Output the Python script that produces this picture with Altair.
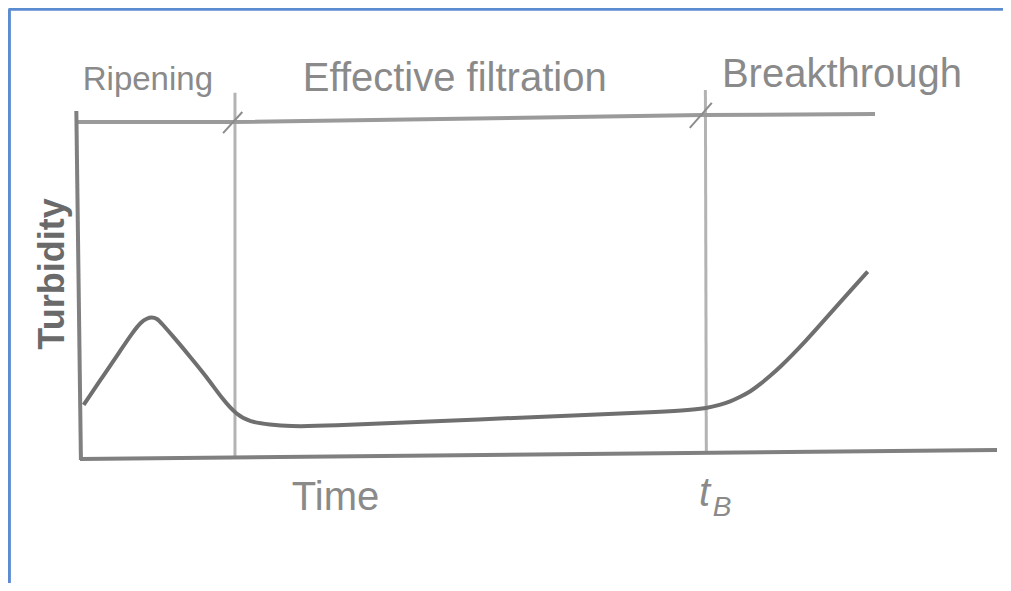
import altair as alt
import pandas as pd

# ---- data (time 0..100, turbidity 0..100, arbitrary units) ----
curve_t = [0.4, 2.5, 4.4, 5.8, 6.7, 7.3, 7.8, 8.4, 8.9, 10.2, 12.0, 13.8, 15.6, 17.1, 18.5, 20.7, 22.9, 26.2,
           40.4, 56.7, 63.3, 66.5, 68.3, 69.8, 70.9, 72.0, 73.1, 74.2, 75.3, 76.4, 77.8, 79.1, 80.3, 81.6, 82.9, 84.4, 85.9]
curve_v = [15.9, 24.1, 31.5, 37.0, 39.9, 40.8, 41.2, 40.8, 39.4, 35.5, 29.8, 24.0, 17.3, 13.0, 11.0, 10.2, 9.7, 9.7,
           11.4, 13.1, 13.9, 14.4, 14.9, 15.9, 16.8, 18.2, 19.7, 21.9, 24.3, 26.9, 30.6, 34.2, 37.7, 41.6, 45.5, 49.9, 54.3]

# axes drawn as hand-sketched lines
axis_id = ["y", "y", "x", "x"]
axis_t = [-0.4, 0.1, 0.0, 100.0]
axis_v = [100.6, 0.0, 0.3, 2.9]

# phase bar on top
top_t = [-0.4, 16.6, 67.9, 86.7]
top_v = [97.4, 97.4, 99.4, 99.7]

# phase boundaries (vertical lines)
bound_id = ["a", "a", "b", "b"]
bound_t = [16.9, 16.9, 68.2, 68.3]
bound_v = [105.8, 0.3, 106.6, 2.3]

# small slashes at the phase marks
slash_id = ["a", "a", "b", "b"]
slash_t = [15.6, 17.7, 66.5, 68.9]
slash_v = [94.2, 100.3, 95.7, 102.9]

# phase labels
phase_labels = ["Effective filtration", "Breakthrough"]
phase_t = [24.3, 70.0]
phase_v = [106.3, 107.5]
ripening_label = ["Ripening"]
ripening_t = [0.3]
ripening_v = [106.6]

# axis labels
time_label = ["Time"]
time_t = [23.1]
time_v = [-14.4]
tb_main = ["t"]
tb_main_t = [67.5]
tb_main_v = [-13.3]
tb_sub = ["B"]
tb_sub_t = [69.0]
tb_sub_v = [-16.1]
turb_label = ["Turbidity"]
turb_t = [-2.9]
turb_v = [53.6]

# frame of the picture
frame_id = ["top", "top", "left", "left"]
frame_t = [-7.8, 100.7, -7.7, -7.7]
frame_v = [129.9, 129.9, 129.9, -36.0]

X = alt.Scale(domain=[0, 100], nice=False, zero=False)
Y = alt.Scale(domain=[0, 100], nice=False, zero=False)


def xy(group=None):
    enc = dict(
        x=alt.X("t:Q", scale=X, axis=None),
        y=alt.Y("v:Q", scale=Y, axis=None),
    )
    if group:
        enc["detail"] = alt.Detail(f"{group}:N")
    return enc


curve_df = pd.DataFrame({"t": curve_t, "v": curve_v})
axis_df = pd.DataFrame({"id": axis_id, "t": axis_t, "v": axis_v})
top_df = pd.DataFrame({"t": top_t, "v": top_v})
bound_df = pd.DataFrame({"id": bound_id, "t": bound_t, "v": bound_v})
slash_df = pd.DataFrame({"id": slash_id, "t": slash_t, "v": slash_v})
frame_df = pd.DataFrame({"id": frame_id, "t": frame_t, "v": frame_v})

FONT = "Liberation Sans"
TXT = "#8a8a8a"

frame = alt.Chart(frame_df).mark_line(color="#5B8BD0", strokeWidth=3, clip=False).encode(**xy("id"))
bounds = alt.Chart(bound_df).mark_line(color="#b3b3b3", strokeWidth=3).encode(**xy("id"))
slashes = alt.Chart(slash_df).mark_line(color="#8c8c8c", strokeWidth=2).encode(**xy("id"))
top = alt.Chart(top_df).mark_line(color="#9a9a9a", strokeWidth=4).encode(**xy())
axes = alt.Chart(axis_df).mark_line(color="#808080", strokeWidth=4).encode(**xy("id"))
curve = alt.Chart(curve_df).mark_line(color="#6f6f6f", strokeWidth=4, interpolate="basis").encode(**xy())


def text_layer(labels, ts, vs, font=FONT, color=TXT, **kw):
    df = pd.DataFrame({"label": labels, "t": ts, "v": vs})
    return alt.Chart(df).mark_text(font=font, color=color, **kw).encode(
        x=alt.X("t:Q", scale=X, axis=None),
        y=alt.Y("v:Q", scale=Y, axis=None),
        text="label:N",
    )


phases = text_layer(phase_labels, phase_t, phase_v, fontSize=40, align="left", baseline="alphabetic")
ripening = text_layer(ripening_label, ripening_t, ripening_v, fontSize=33, align="left",
                      baseline="alphabetic")
time_t_layer = text_layer(time_label, time_t, time_v, fontSize=40, align="left", baseline="alphabetic")
tb1 = text_layer(tb_main, tb_main_t, tb_main_v, fontSize=40, align="left", baseline="alphabetic", fontStyle="italic")
tb2 = text_layer(tb_sub, tb_sub_t, tb_sub_v, fontSize=28, align="left", baseline="alphabetic", fontStyle="italic")
turb = text_layer(turb_label, turb_t, turb_v, fontSize=36, align="center", baseline="middle",
                  angle=270, fontWeight="bold", color="#6a6a6a")

chart = alt.layer(
    frame, bounds, top, axes, slashes, curve,
    phases, ripening, time_t_layer, tb1, tb2, turb,
).properties(
    width=917,
    height=347,
    padding={"left": 72, "top": 105, "right": 6, "bottom": 123},
    autosize=alt.AutoSizeParams(type="none"),
    background="white",
).configure_view(stroke=None)

chart.save("out.html", embed_options={"renderer": "svg", "actions": False})
